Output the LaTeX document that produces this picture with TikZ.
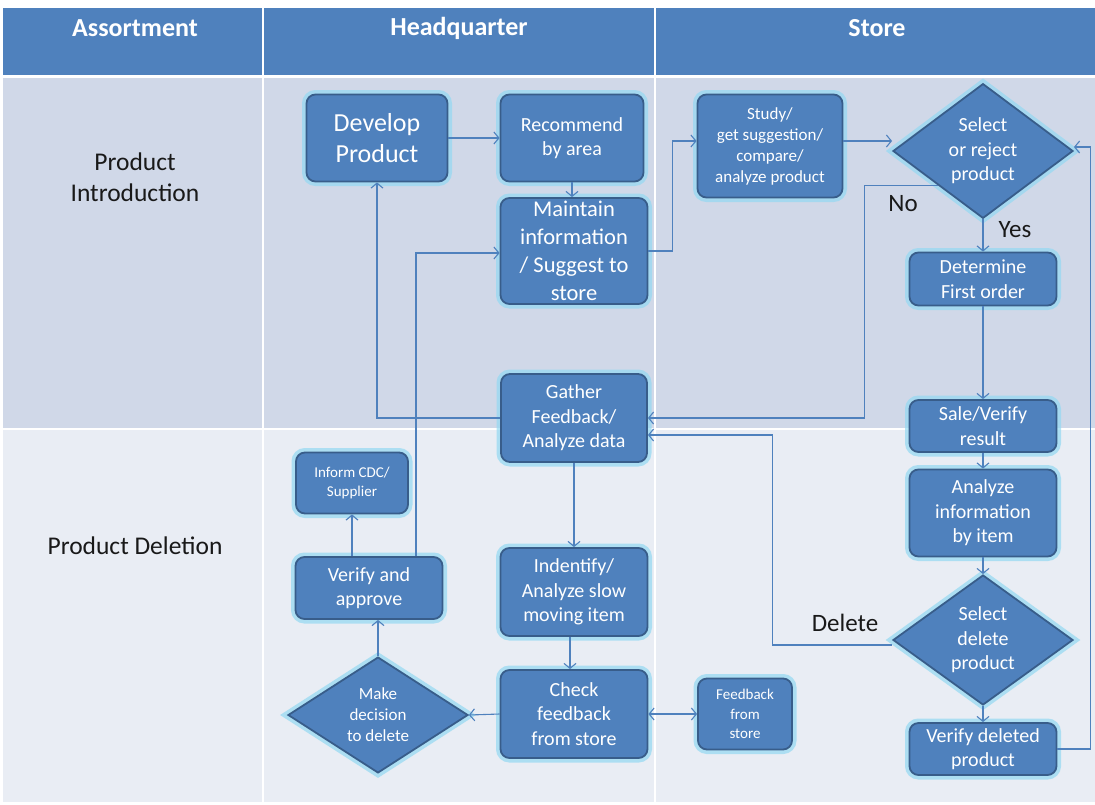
\documentclass[tikz,border=0pt]{standalone}
\usepackage{fontspec}
\setmainfont{Carlito}
\usetikzlibrary{shapes.geometric,arrows.meta}
\definecolor{hdr}{HTML}{4F81BD}
\definecolor{rowa}{HTML}{D0D8E8}
\definecolor{rowb}{HTML}{E9EDF4}
\definecolor{boxfill}{HTML}{4F81BD}
\definecolor{boxline}{HTML}{385D8A}
\definecolor{glowc}{HTML}{93D9F2}
\definecolor{connc}{HTML}{4F81BD}
\begin{document}
\begin{tikzpicture}[x=1pt,y=-1pt,
 proc/.style={rectangle, rounded corners=9pt, fill=boxfill, draw=boxline, line width=1.8pt, text=white, align=center, inner sep=0pt,
   preaction={draw=glowc, line width=9pt, opacity=0.7}},
 dec/.style={diamond, fill=boxfill, draw=boxline, line width=1.8pt, text=white, align=center, inner sep=0pt,
   preaction={draw=glowc, line width=9pt, opacity=0.7}},
 conn/.style={draw=connc, line width=1.1pt, -{Straight Barb[length=5pt,width=12pt]}},
 conn2/.style={draw=connc, line width=1.1pt, {Straight Barb[length=5pt,width=12pt]}-{Straight Barb[length=5pt,width=12pt]}},
 hdrtext/.style={text=white, font=\fontsize{26}{30}\selectfont\bfseries},
 rowtext/.style={text=black!90, align=center, font=\fontsize{25.5}{31}\selectfont},
 lbl/.style={text=black!90, font=\fontsize{25}{28}\selectfont},
 fA/.style={font=\fontsize{26}{31}\selectfont},
 fB/.style={font=\fontsize{22.5}{28}\selectfont},
 fC/.style={font=\fontsize{20}{24.5}\selectfont},
 fD/.style={font=\fontsize{17}{21}\selectfont},
 fE/.style={font=\fontsize{15}{19.5}\selectfont}
]
\useasboundingbox (0,0) rectangle (1095,804);
% backgrounds
\fill[white] (0,0) rectangle (1095,804);
\fill[hdr] (3,8) rectangle (1095,75);
\fill[rowa] (3,78) rectangle (1095,428);
\fill[rowb] (3,430) rectangle (1095,802);
\draw[white, line width=2pt] (263,8) -- (263,802);
\draw[white, line width=2pt] (655,8) -- (655,802);

% header
\node[hdrtext] (h1) at (135,28) {Assortment};
\node[hdrtext] (h2) at (459,28) {Headquarter};
\node[hdrtext] (h3) at (877,28) {Store};
% row labels
\node[rowtext] (r1) at (135,177) {Product\\Introduction};
\node[rowtext] (r2) at (135,546) {Product Deletion};

% nodes
\node[proc, fA, minimum width=141pt, minimum height=87pt] (dev) at (377,138) {Develop\\Product};
\node[proc, fC, minimum width=143pt, minimum height=87pt] (rec) at (572,138) {Recommend\\by area};
\node[proc, fB, minimum width=147pt, minimum height=106pt] (mnt) at (574,251) {Maintain\\information\\/ Suggest to\\store};
\node[proc, fD, minimum width=145pt, minimum height=103pt] (std) at (770,146) {Study/\\get suggestion/\\compare/\\analyze product};
\node[dec, fC, minimum width=180pt, minimum height=130pt] (sel) at (983,151) {Select\\or reject\\product};
\node[proc, fC, minimum width=147pt, minimum height=53pt] (det) at (983,279) {Determine\\First order};
\node[proc, fC, minimum width=146pt, minimum height=88pt] (gat) at (574,418) {Gather\\Feedback/\\Analyze data};
\node[proc, fC, minimum width=147pt, minimum height=52pt] (sal) at (983,426) {Sale/Verify\\result};
\node[proc, fC, minimum width=147pt, minimum height=87pt] (ana) at (983,513) {Analyze\\information\\by item};
\node[dec, fC, minimum width=180pt, minimum height=130pt] (sdl) at (983,640) {Select\\delete\\product};
\node[proc, fC, minimum width=147pt, minimum height=52pt] (vdl) at (983,749) {Verify deleted\\product};
\node[proc, fE, minimum width=94pt, minimum height=71pt] (fbs) at (745,714) {Feedback\\from\\store};
\node[proc, fE, minimum width=112pt, minimum height=61pt] (inf) at (352,483) {Inform CDC/\\Supplier};
\node[proc, fC, minimum width=147pt, minimum height=62pt] (vap) at (369,588) {Verify and\\approve};
\node[dec, fD, minimum width=180pt, minimum height=106pt] (mkd) at (378,715) {Make\\decision\\to delete};
\node[proc, fC, minimum width=147pt, minimum height=88pt] (idn) at (574,592) {Indentify/\\Analyze slow\\moving item};
\node[proc, fC, minimum width=147pt, minimum height=88pt] (chk) at (574,714) {Check\\feedback\\from store};

% connectors
\draw[conn] (dev.east) -- (rec.west);
\draw[conn] (rec.south) -- (rec.south |- mnt.north);
\draw[conn] (mnt.east) -- ++(24,0) |- ([yshift=5pt]std.west);
\draw[conn] ([yshift=5pt]std.east) -- ([yshift=5pt]std.east -| sel.west);
\draw[conn] (sel.south) -- (det.north);
\draw[conn] (sel.south west) -- ++(-73,0) |- (gat.east);
\draw[conn] (det.south) -- (sal.north);
\draw[conn] (sal.south) -- (ana.north);
\draw[conn] (ana.south) -- (sdl.north);
\draw[conn] (sdl.south) -- (vdl.north);
\draw[conn] (vdl.east) -- ++(33,0) |- ([yshift=4pt]sel.east);
\draw[conn] ([yshift=-5pt]sdl.west) -- ++(-120,0) |- ([yshift=-17pt]gat.east);
\draw[conn] (gat.west) -| (dev.south);
\draw[conn] (gat.south) -- (idn.north);
\draw[conn] ([xshift=-4pt]idn.south) -- ([xshift=-4pt]idn.south |- chk.north);
\draw[conn2] (chk.east) -- (fbs.west);
\draw[conn] (chk.west) -- (mkd.east);
\draw[conn] (mkd.north) -- (mkd.north |- vap.south);
\draw[conn] (inf.south |- vap.north) -- (inf.south);
\draw[conn] ([xshift=47pt]vap.north) |- ([yshift=-2pt]mnt.west);

% labels
\node[lbl] (no) at (903,204) {No};
\node[lbl] (yes) at (1015,230) {Yes};
\node[lbl] (del) at (845,623) {Delete};
\end{tikzpicture}
\end{document}
